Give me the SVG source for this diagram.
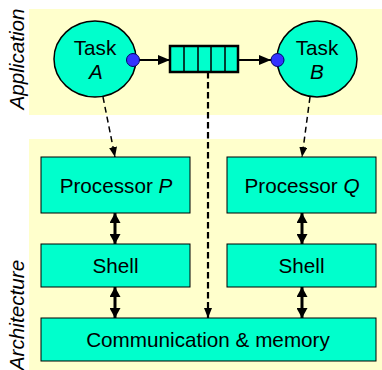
<svg xmlns="http://www.w3.org/2000/svg" width="382" height="370" viewBox="0 0 382 370">
<style>
text{font-family:"Liberation Sans",Arial,sans-serif;font-size:20.7px;fill:#000;}
.it{font-style:italic;}
.mid{text-anchor:middle;}
.band{fill:#FFFFCC;}
.box{fill:#00FFCC;stroke:#000;stroke-width:1;}
.task{fill:#00FFCC;stroke:#000;stroke-width:1.5;}
.port{fill:#3333FF;stroke:#000066;stroke-width:1;}
.solid{stroke:#000;stroke-width:2;fill:none;}
.dbl{stroke:#000;stroke-width:3;fill:none;}
.dash{stroke:#000;stroke-width:1.5;stroke-dasharray:6,4;fill:none;}
.dashq{stroke:#000;stroke-width:2.2;stroke-dasharray:6.5,3.5;fill:none;}
</style>
<defs>
<marker id="ah" markerUnits="userSpaceOnUse" markerWidth="12" markerHeight="10" viewBox="0 0 12 10" refX="12" refY="5" orient="auto"><path d="M0,0 L12,5 L0,10 z" fill="#000"/></marker>
<marker id="dh" markerUnits="userSpaceOnUse" markerWidth="10" markerHeight="11" viewBox="0 0 10 11" refX="10" refY="5.5" orient="auto-start-reverse"><path d="M0,0 L10,5.5 L0,11 z" fill="#000"/></marker>
<marker id="sh" markerUnits="userSpaceOnUse" markerWidth="10" markerHeight="8" viewBox="0 0 10 8" refX="10" refY="4" orient="auto"><path d="M0,0 L10,4 L0,8 z" fill="#000"/></marker>
</defs>
<g id="bands">
<rect class="band" x="29" y="9" width="353" height="106"/>
<rect class="band" x="29" y="139" width="353" height="231"/>
<text class="it mid" transform="translate(24,59) rotate(-90)">Application</text>
<text class="it mid" transform="translate(24,315) rotate(-90)">Architecture</text>
</g>
<g id="connectors">
<line class="solid" x1="139" y1="60" x2="170" y2="60" marker-end="url(#ah)"/>
<line class="solid" x1="238" y1="60" x2="271" y2="60" marker-end="url(#ah)"/>
<line class="dash" x1="103" y1="97" x2="115" y2="157" marker-end="url(#sh)"/>
<line class="dash" x1="310" y1="97" x2="302" y2="157" marker-end="url(#sh)"/>
<line class="dashq" x1="208" y1="72" x2="208" y2="318" marker-end="url(#sh)"/>
<line class="dbl" x1="115" y1="213" x2="115" y2="244" marker-start="url(#dh)" marker-end="url(#dh)"/>
<line class="dbl" x1="302" y1="213" x2="302" y2="244" marker-start="url(#dh)" marker-end="url(#dh)"/>
<line class="dbl" x1="115" y1="287" x2="115" y2="318" marker-start="url(#dh)" marker-end="url(#dh)"/>
<line class="dbl" x1="302" y1="287" x2="302" y2="318" marker-start="url(#dh)" marker-end="url(#dh)"/>
</g>
<g id="taskA">
<ellipse class="task" cx="95" cy="59" rx="41" ry="38"/>
<text class="mid" x="95" y="55">Task</text>
<text class="mid it" x="96" y="79">A</text>
<circle class="port" cx="133" cy="60" r="6.5"/>
</g>
<g id="queue">
<rect x="170" y="46" width="68" height="26" fill="#00FFCC" stroke="#000" stroke-width="2.5"/>
<path d="M184,46V72M198,46V72M211,46V72M225,46V72" stroke="#000" stroke-width="1.5"/>
</g>
<g id="taskB">
<ellipse class="task" cx="317" cy="59" rx="40" ry="38"/>
<text class="mid" x="317" y="55">Task</text>
<text class="mid it" x="317" y="79">B</text>
<circle class="port" cx="277.5" cy="60" r="6.5"/>
</g>
<g id="procP">
<rect class="box" x="41" y="157" width="149" height="56"/>
<text class="mid" x="116" y="193">Processor <tspan class="it">P</tspan></text>
</g>
<g id="procQ">
<rect class="box" x="227" y="157" width="149" height="56"/>
<text class="mid" x="302" y="193">Processor <tspan class="it">Q</tspan></text>
</g>
<g id="shellP">
<rect class="box" x="41" y="244" width="149" height="43"/>
<text class="mid" x="115.5" y="273">Shell</text>
</g>
<g id="shellQ">
<rect class="box" x="227" y="244" width="149" height="43"/>
<text class="mid" x="301.5" y="273">Shell</text>
</g>
<g id="comm">
<rect class="box" x="41" y="318" width="335" height="43"/>
<text class="mid" x="208" y="347">Communication &amp; memory</text>
</g>
</svg>
